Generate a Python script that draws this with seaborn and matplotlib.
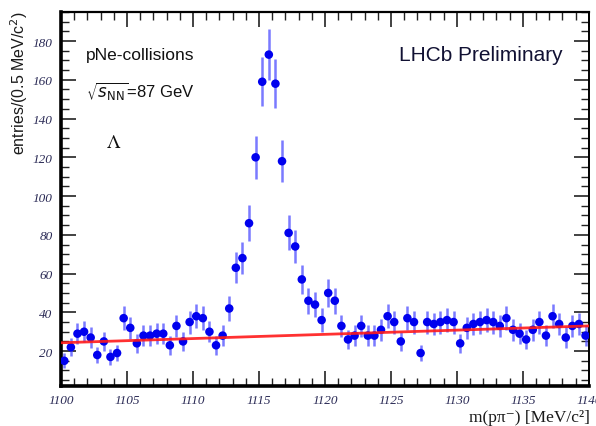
import numpy as np
import pandas as pd
import matplotlib
matplotlib.use("Agg")
import matplotlib.pyplot as plt
from matplotlib.ticker import MultipleLocator
import seaborn as sns

# Lambda -> p pi- invariant mass, 0.5 MeV/c^2 bins from 1100 to 1140 MeV/c^2
bin_low = 1100.0
bin_width = 0.5
counts = [
    15, 22, 29, 30, 27, 18, 25, 17, 19, 37,
    32, 24, 28, 28, 29, 29, 23, 33, 25, 35,
    38, 37, 30, 23, 28, 42, 63, 68, 86, 120,
    159, 173, 158, 118, 81, 74, 57, 46, 44, 36,
    50, 46, 33, 26, 28, 33, 28, 28, 31, 38,
    35, 25, 37, 35, 19, 35, 34, 35, 36, 35,
    24, 32, 34, 35, 36, 35, 33, 37, 31, 29,
    26, 31, 35, 28, 38, 34, 27, 33, 34, 28,
]
# linear background fit, evaluated at the ends of the mass window
fit_mass = [1100.0, 1140.0]
fit_entries = [24.3, 33.0]

mass = bin_low + bin_width * (np.arange(len(counts)) + 0.5)
df = pd.DataFrame({"mass": mass, "entries": counts})
df["err"] = np.sqrt(df["entries"])
fit_df = pd.DataFrame({"mass": fit_mass, "entries": fit_entries})

sns.set_theme(style="white")
plt.rcParams["font.family"] = ["DejaVu Sans"]

fig = plt.figure(figsize=(5.96, 4.27), dpi=100)
ax = fig.add_axes([0.1023, 0.0937, 0.8857, 0.8759])

ax.errorbar(df["mass"], df["entries"], yerr=df["err"], fmt="none",
            ecolor="#4d4dff", elinewidth=1.8, alpha=0.75, zorder=2)
sns.scatterplot(data=df, x="mass", y="entries", ax=ax, color="#0000ee",
                s=38, edgecolor="none", zorder=3, legend=False)
sns.lineplot(data=fit_df, x="mass", y="entries", ax=ax, color="#ff1a1a",
             linewidth=2.0, alpha=0.9, zorder=4)

ax.set_xlim(1100, 1140)
ax.set_ylim(2, 195)

ax.xaxis.set_major_locator(MultipleLocator(5))
ax.xaxis.set_minor_locator(MultipleLocator(1))
ax.yaxis.set_major_locator(MultipleLocator(20))
ax.yaxis.set_minor_locator(MultipleLocator(5))
ax.tick_params(which="both", direction="in", top=True, right=True,
               bottom=True, left=True, colors="#222222")
ax.tick_params(which="major", length=11, width=1.2)
ax.tick_params(which="minor", length=6, width=1.0)
ax.tick_params(labeltop=False, labelright=False)

tick_font = {"family": "Liberation Serif", "style": "italic", "size": 9.5}
ax.set_xticks(np.arange(1100, 1141, 5))
ax.set_xticklabels([str(v) for v in range(1100, 1141, 5)], fontdict=tick_font,
                   color="#2a2a55")
ax.set_yticks(np.arange(20, 181, 20))
ax.set_yticklabels([str(v) for v in range(20, 181, 20)], fontdict=tick_font,
                   color="#2a2a55")
ax.tick_params(axis="x", pad=6)
ax.tick_params(axis="y", pad=6)

for side, lw in (("left", 2.6), ("bottom", 2.6), ("top", 1.6), ("right", 1.4)):
    ax.spines[side].set_visible(True)
    ax.spines[side].set_linewidth(lw)
    ax.spines[side].set_color("black")

ax.set_xlabel("")
ax.set_ylabel("")
fig.text(0.99, 0.002, "m(pπ\u207b) [MeV/c\u00b2]", ha="right", va="bottom",
         fontsize=12.5, family=["Liberation Serif", "DejaVu Serif"],
         color="#1a1a1a")
fig.text(0.032, 0.975, r"entries/(0.5 MeV/c$^{2}$)", rotation=90, ha="center",
         va="top", fontsize=11.5, family="Liberation Sans", color="#1a1a1a")

ax.text(0.047, 0.885, "pNe-collisions", transform=ax.transAxes, fontsize=12.5,
        family="Liberation Sans", color="#111111", va="center", ha="left")
ax.text(0.047, 0.79, r"$\sqrt{s_{\mathrm{NN}}}$=87 GeV", transform=ax.transAxes,
        fontsize=12, family="Liberation Sans", color="#111111", va="center",
        ha="left", math_fontfamily="dejavusans")
ax.text(0.085, 0.655, r"$\Lambda$", transform=ax.transAxes, fontsize=14,
        color="#111111", va="center", ha="left", math_fontfamily="stix")
ax.text(0.95, 0.885, "LHCb Preliminary", transform=ax.transAxes, fontsize=15,
        family="Liberation Sans", color="#111133", va="center", ha="right")

fig.savefig("out.png", dpi=100)
